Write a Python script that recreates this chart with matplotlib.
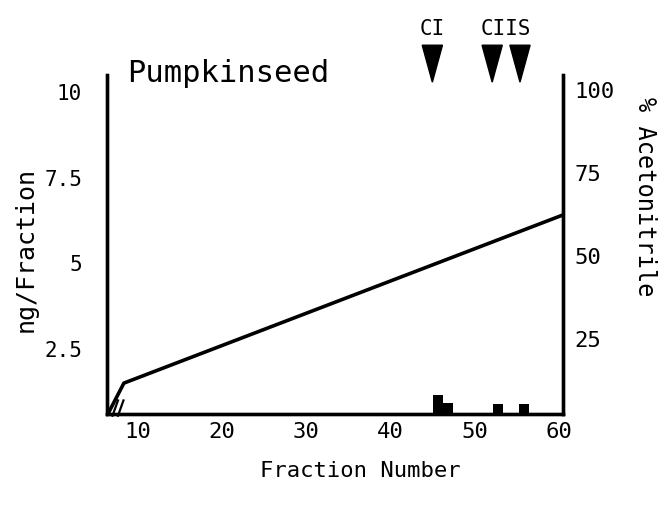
import matplotlib

matplotlib.use("Agg")
import matplotlib.pyplot as plt
import matplotlib.transforms as mtransforms

plt.rcParams["font.family"] = ["DejaVu Sans Mono", "DejaVu Sans"]

# acetonitrile gradient (% on right axis) vs fraction number
grad_frac = [6.5, 8.4, 60.5]
grad_pct = [2.5, 11.8, 62.4]

# immunoreactive material per fraction
bar_frac = [45.7, 46.9, 52.8, 55.9]
bar_ng = [1.16, 0.92, 0.89, 0.89]

# peak markers above the plot
peak_labels = ["CI", "CIIS", ""]
peak_frac = [45.0, 52.1, 55.4]

x_ticks = [10, 20, 30, 40, 50, 60]
left_ticks = [2.5, 5, 7.5, 10]
left_ticklabels = ["2.5", "5", "7.5", "10"]
right_ticks = [25, 50, 75, 100]

fig = plt.figure(figsize=(6.69, 5.07), dpi=100)
ax = fig.add_axes([0.160, 0.1834, 0.6815, 0.6686])
ax2 = ax.twinx()

ax.bar(bar_frac, bar_ng, width=1.2, color="black", align="center")
ax2.plot(grad_frac, grad_pct, color="black", lw=2.6, solid_capstyle="round")

ax.set_xlim(6.4, 60.5)
ax.set_ylim(0.6, 10.5)
ax2.set_ylim(2.5, 104.5)

for a in (ax, ax2):
    a.spines["top"].set_visible(False)
    for s in ("left", "right", "bottom"):
        a.spines[s].set_linewidth(2.4)

ax.set_xticks(x_ticks)
ax.set_yticks(left_ticks)
ax.set_yticklabels(left_ticklabels)
ax2.set_yticks(right_ticks)
ax.tick_params(axis="x", length=0, pad=6, labelsize=16)
ax.tick_params(axis="y", length=0, pad=18, labelsize=15)
ax2.tick_params(axis="y", length=0, pad=8, labelsize=16)

ax.set_xlabel("Fraction Number", fontsize=16)
ax.xaxis.set_label_coords(0.555, -0.14)
ax.set_ylabel("ng/Fraction", fontsize=18)
ax.yaxis.set_label_coords(-0.152, 0.484)
ax2.set_ylabel("% Acetonitrile", fontsize=17, rotation=-90, va="center")
ax2.yaxis.set_label_coords(1.18, 0.64)

ax.text(0.045, 1.005, "Pumpkinseed", transform=ax.transAxes, fontsize=22,
        ha="left", va="center")

# peak arrows: x in data units, y in axes fraction
trans = mtransforms.blended_transform_factory(ax.transData, ax.transAxes)
for lab, f in zip(peak_labels, peak_frac):
    ax.fill([f - 1.2, f + 1.2, f], [1.088, 1.088, 0.979], color="black",
            transform=trans, clip_on=False)
labels_x = [peak_frac[0], (peak_frac[1] + peak_frac[2]) / 2]
for lab, xx in zip(peak_labels[:2], labels_x):
    ax.text(xx, 1.135, lab, transform=trans, fontsize=15, ha="center", va="center")

# axis break marks near the origin
for dx in (0.0, 0.012):
    ax.plot([0.012 + dx, 0.024 + dx], [-0.005, 0.04], transform=ax.transAxes,
            color="black", lw=1.6, clip_on=False)

fig.savefig("out.png", dpi=100)
